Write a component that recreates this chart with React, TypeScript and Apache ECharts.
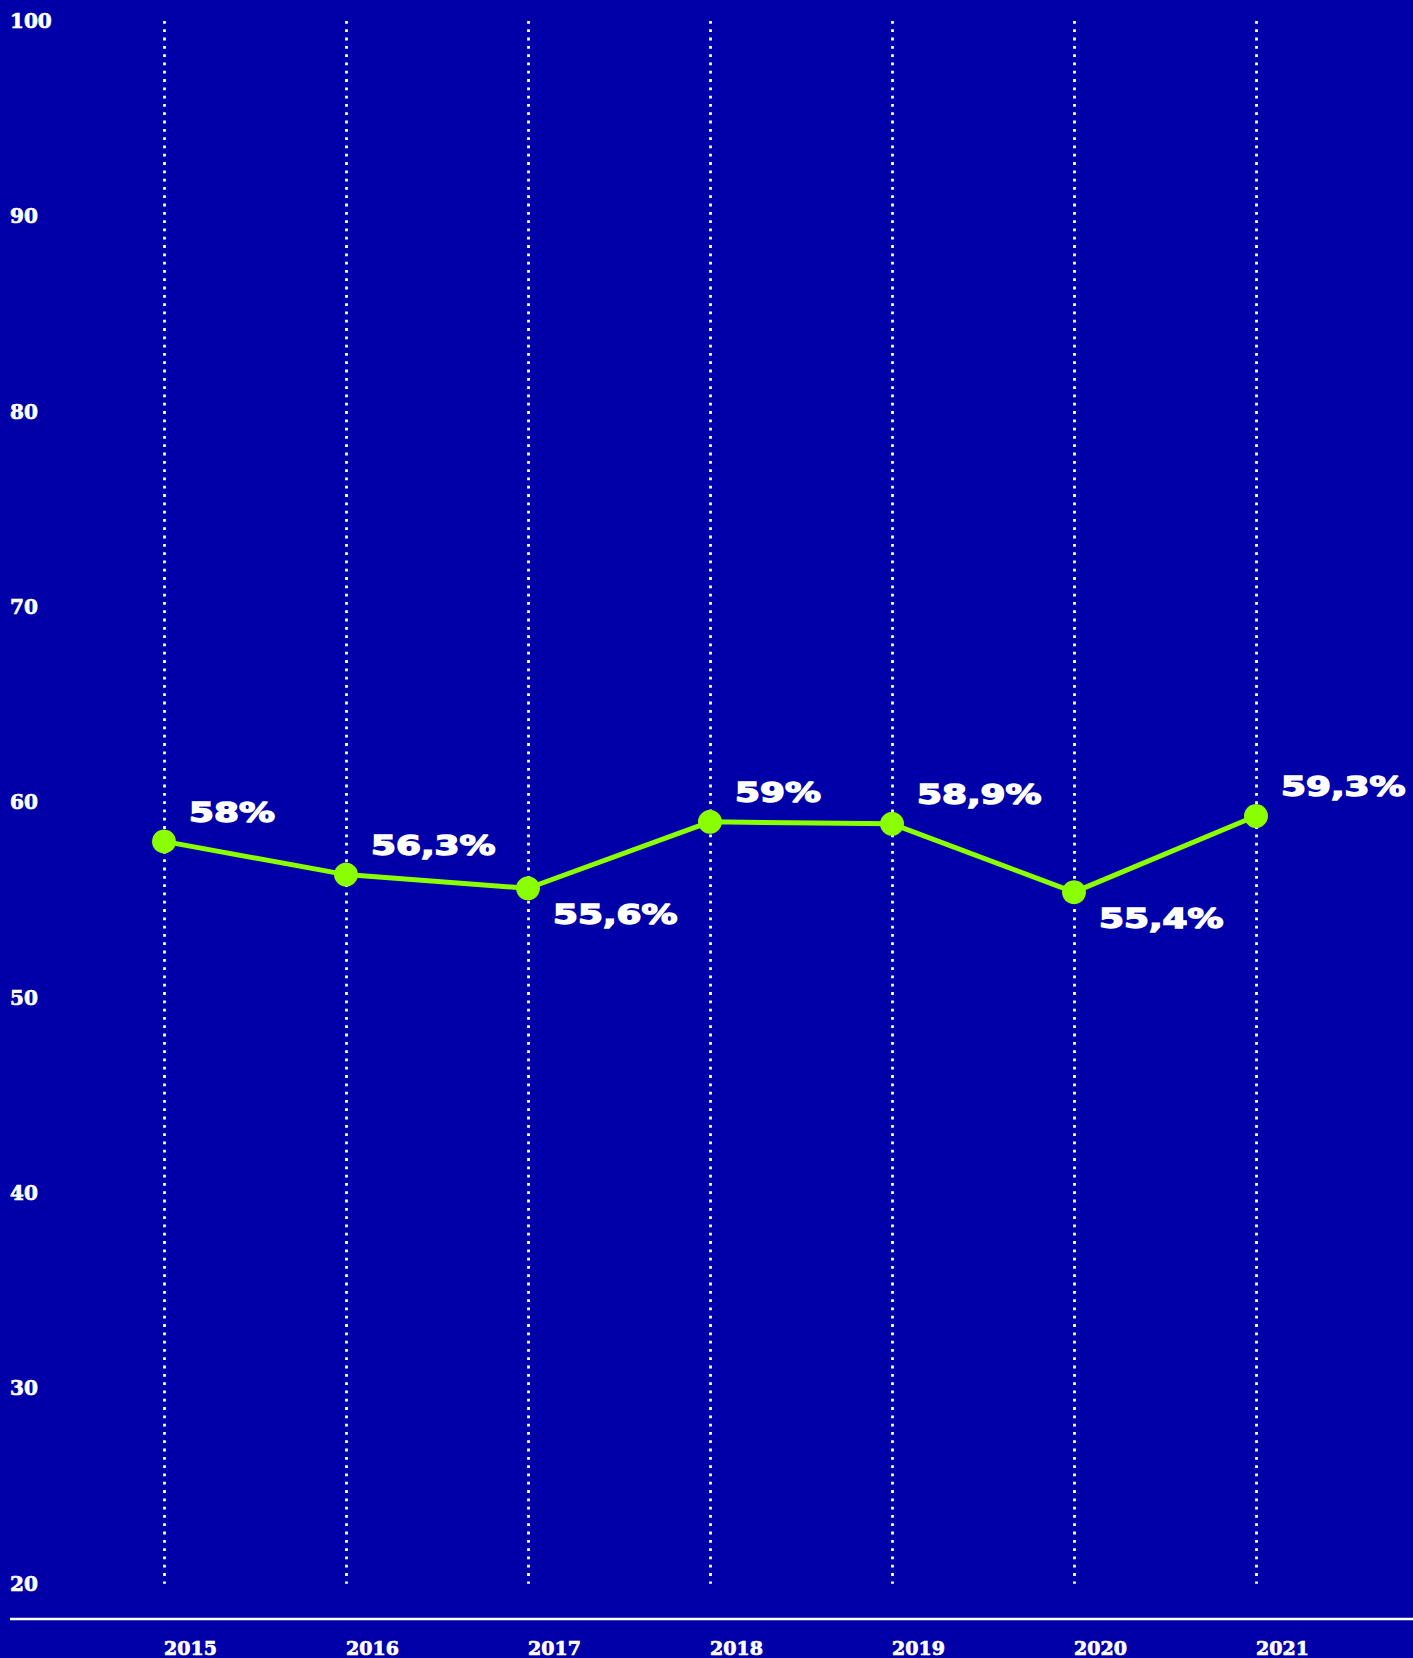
import React, { useEffect, useRef } from "react";
import * as echarts from "echarts";

const years = ["2015", "2016", "2017", "2018", "2019", "2020", "2021"];
const shares = [58, 56.3, 55.6, 59, 58.9, 55.4, 59.3];
const yTicks = { min: 20, max: 100, interval: 10 };

const BG = "#0000a8";
const LIME = "#8aff00";

export default function App() {
  const ref = useRef<HTMLDivElement>(null);
  useEffect(() => {
    document.body.style.margin = "0";
    const chart = echarts.init(ref.current!, null, { renderer: "svg" });
    const labelData = shares.map((v, i) => [i, v]);
    const isLocalMin = (i: number) =>
      i > 0 && i < shares.length - 1 && shares[i] < shares[i - 1] && shares[i] < shares[i + 1];
    const tickFont = {
      color: "#fff",
      fontFamily: "DejaVu Serif",
      fontWeight: "bold",
      textBorderColor: "#fff",
      textBorderWidth: 0.7,
    };
    chart.setOption({
      animation: false,
      backgroundColor: BG,
      grid: { left: 164, right: 157, top: 21, bottom: 74 },
      xAxis: {
        type: "category",
        data: years,
        boundaryGap: false,
        axisLine: { show: false },
        axisTick: { show: false },
        axisLabel: { ...tickFont, fontSize: 19, align: "left", margin: 55 },
        splitLine: {
          show: true,
          lineStyle: { color: "#fff", width: 2.8, type: [2.8, 5.5] },
        },
      },
      yAxis: {
        type: "value",
        min: yTicks.min,
        max: yTicks.max,
        interval: yTicks.interval,
        axisLine: { show: false },
        axisTick: { show: false },
        splitLine: { show: false },
        axisLabel: { ...tickFont, fontSize: 20, align: "left", margin: 154 },
      },
      graphic: [
        {
          type: "line",
          shape: { x1: 10, y1: 1619, x2: 1413, y2: 1619 },
          style: { stroke: "#fff", lineWidth: 2.5 },
          z: 10,
        },
      ],
      series: [
        {
          type: "line",
          data: shares,
          symbol: "circle",
          symbolSize: 24,
          lineStyle: { color: LIME, width: 5 },
          itemStyle: { color: LIME },
          z: 3,
        },
        {
          type: "custom",
          data: labelData,
          encode: { x: 0, y: 1 },
          z: 5,
          renderItem: (params: any, api: any) => {
            const idx = params.dataIndex;
            const v = api.value(1);
            const pt = api.coord([api.value(0), v]);
            const below = isLocalMin(idx);
            return {
              type: "text",
              x: pt[0] + 25,
              y: pt[1] + (below ? 27 : -29),
              scaleX: 1.38,
              style: {
                text: `${String(v).replace(".", ",")}%`,
                fill: "#fff",
                stroke: "#fff",
                lineWidth: 1.4,
                font: 'bold 26px "DejaVu Sans"',
                align: "left",
                verticalAlign: "middle",
              },
            };
          },
        },
      ],
    });
    return () => chart.dispose();
  }, []);
  return <div ref={ref} style={{ width: 1413, height: 1658 }} />;
}
